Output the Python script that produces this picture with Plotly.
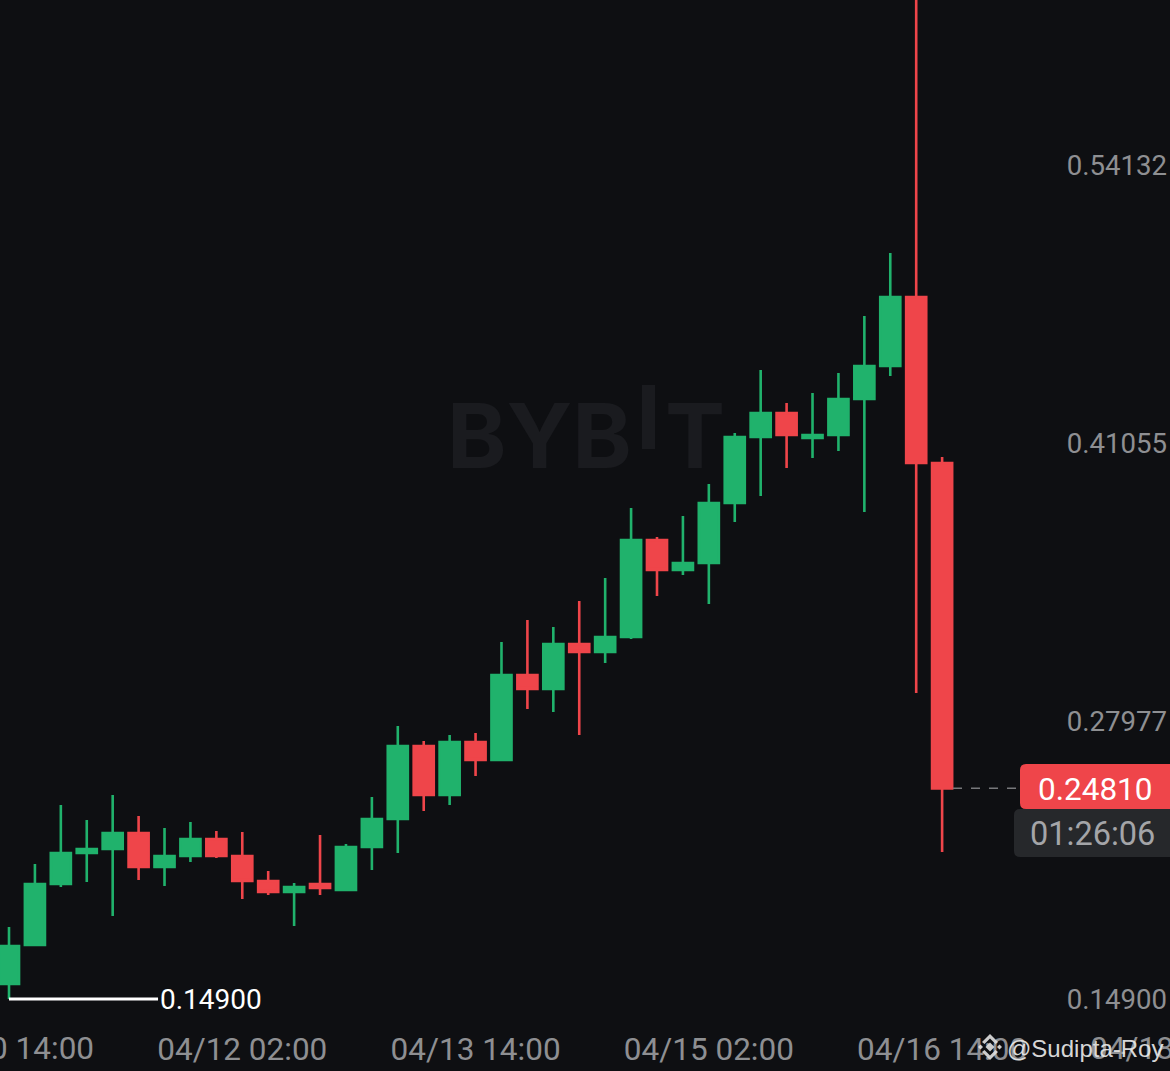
import pandas as pd
import plotly.graph_objects as go

# 4h candles
times = pd.date_range("2025-04-10 14:00", periods=37, freq="4h")
opens = [0.15606, 0.17440, 0.20310, 0.21768, 0.21956, 0.22709, 0.21109, 0.21627, 0.22426, 0.21627,
         0.20451, 0.19933, 0.20310, 0.20027, 0.22050, 0.23367, 0.26801, 0.24496, 0.26989, 0.26143,
         0.30141, 0.29482, 0.31599, 0.31223, 0.31928, 0.36491, 0.35080, 0.35409, 0.38232, 0.41336,
         0.42465, 0.41289, 0.41431, 0.43124, 0.44676, 0.47922, 0.40113]
highs = [0.18287, 0.21250, 0.24026, 0.23320, 0.24496, 0.23508, 0.22944, 0.23226, 0.22803, 0.22756,
         0.20921, 0.20357, 0.22615, 0.22191, 0.24402, 0.27742, 0.27036, 0.27319, 0.27413, 0.31693,
         0.32728, 0.32399, 0.33622, 0.34704, 0.37997, 0.36632, 0.37620, 0.39126, 0.41525, 0.44488,
         0.42936, 0.43406, 0.44347, 0.47028, 0.49992, 0.63000, 0.40396]
lows = [0.14900, 0.17440, 0.20168, 0.20404, 0.18804, 0.20498, 0.20216, 0.21344, 0.21533, 0.19604,
        0.19792, 0.18334, 0.19792, 0.20027, 0.20968, 0.21768, 0.23744, 0.24026, 0.25390, 0.26096,
        0.28542, 0.28400, 0.27319, 0.30705, 0.31834, 0.33857, 0.34845, 0.33481, 0.37338, 0.38561,
        0.39878, 0.40349, 0.40678, 0.37808, 0.44206, 0.29294, 0.21815]
closes = [0.17393, 0.20310, 0.21768, 0.21956, 0.22709, 0.21109, 0.21627, 0.22426, 0.21627, 0.20451,
          0.19933, 0.20168, 0.20121, 0.22050, 0.23367, 0.26801, 0.24496, 0.26989, 0.26143, 0.30141,
          0.29482, 0.31599, 0.31223, 0.31928, 0.36491, 0.35080, 0.35409, 0.38232, 0.41336, 0.42465,
          0.41431, 0.41431, 0.43124, 0.44676, 0.47922, 0.40113, 0.24810]
price_ticks = [0.14900, 0.27977, 0.41055, 0.54132]
countdown = "01:26:06"

W, H = 1170, 1071
PLOT_H = 1025  # axis labels sit under this
BG = "#0e0f12"
GREEN = "#20b26c"
RED = "#ef454a"
GREY = "#8e8f92"
FONT = "Roboto"
X_SIZE = 31.5


def px(x):
    return x / W


def py(y):
    return 1 - y / PLOT_H


def label(text, x, y, size, color, anchor="left", font=FONT, bold=False):
    if bold:
        text = "<b>" + text + "</b>"
    return dict(text=text, x=px(x), y=py(y), xref="paper", yref="paper", showarrow=False,
                xanchor=anchor, yanchor="middle", font=dict(family=font, size=size, color=color))


def poly(points, color):
    path = "M " + " L ".join(f"{px(x)},{py(y)}" for x, y in points) + " Z"
    return dict(type="path", path=path, xref="paper", yref="paper", fillcolor=color, line=dict(width=0))


def left_round_rect(x0, y0, x1, y1, r, color):
    # only the left corners are rounded, the right side runs off the page
    path = (f"M {px(x1)},{py(y0)} L {px(x0 + r)},{py(y0)} "
            f"Q {px(x0)},{py(y0)} {px(x0)},{py(y0 + r)} "
            f"L {px(x0)},{py(y1 - r)} Q {px(x0)},{py(y1)} {px(x0 + r)},{py(y1)} "
            f"L {px(x1)},{py(y1)} Z")
    return dict(type="path", path=path, xref="paper", yref="paper", fillcolor=color, line=dict(width=0))


def diamond(cx, cy, r, color):
    return poly([(cx, cy - r), (cx + r, cy), (cx, cy + r), (cx - r, cy)], color)


fig = go.Figure(go.Candlestick(
    x=times, open=opens, high=highs, low=lows, close=closes,
    whiskerwidth=0,
    increasing=dict(line=dict(color=GREEN, width=2.6), fillcolor=GREEN),
    decreasing=dict(line=dict(color=RED, width=2.6), fillcolor=RED),
    hoverinfo="none",
))

# Bybit watermark, the I sits higher than the other letters
WM = "#1a1b1f"
annotations = [
    label("BYB", 445, 436, 90, WM, font="Inter", bold=True),
    label("T", 663, 436, 90, WM, font="Inter", bold=True),
    # these two tick labels run off the page, plotly would drop them on the axis
    label("04/10 14:00", 9, 1048, X_SIZE, GREY, anchor="center"),
    label("04/18 02:00", 1175, 1048, X_SIZE, GREY, anchor="center"),
    label("0.14900", 158, 999, 28, "#ffffff"),
    label("0.24810", 1095, 789, 31.5, "#ffffff", anchor="center"),
    label(countdown, 1092, 834, 32.5, "#a4a5a8", anchor="center"),
    label("@Sudipta-Roy", 1005, 1048, 24, "rgba(235,235,235,0.92)", font="Liberation Sans"),
]

LOGO = "rgba(225,225,225,0.9)"
shapes = [
    poly([(642, 385), (655, 385), (655, 449), (642, 449)], WM),
    # last price line and its tags
    dict(type="line", xref="paper", yref="y", x0=px(953), x1=px(1020), y0=closes[-1], y1=closes[-1],
         line=dict(color="#77787b", width=1.5, dash="dash")),
    left_round_rect(1020, 764, 1172, 809, 6, RED),
    left_round_rect(1014, 809, 1172, 857, 6, "#26282b"),
    # lowest price marker
    dict(type="line", xref="x", yref="y", x0=times[0], x1=times[0] + pd.Timedelta(hours=23),
         y0=min(lows), y1=min(lows), line=dict(color="#ffffff", width=3)),
    # Binance logo
    diamond(990, 1047, 4.5, LOGO),
    diamond(980.5, 1047, 2.5, LOGO),
    diamond(999.5, 1047, 2.5, LOGO),
    poly([(990, 1034), (998, 1042), (995.5, 1044), (990, 1038.5), (984.5, 1044), (982, 1042)], LOGO),
    poly([(990, 1060), (998, 1052), (995.5, 1050), (990, 1055.5), (984.5, 1050), (982, 1052)], LOGO),
]

# the axes are fitted so candle 0 lands 9px in and candles are 25.92px apart
slot = 4 / 25.92
x_range = [times[0] - pd.Timedelta(hours=9 * slot), times[0] + pd.Timedelta(hours=(W - 9) * slot)]
y_per_px = (price_ticks[3] - price_ticks[0]) / (3 * 278)
y_range = [price_ticks[0] - (PLOT_H - 999) * y_per_px, price_ticks[0] + 999 * y_per_px]

fig.update_layout(
    width=W, height=H,
    margin=dict(l=0, r=0, t=0, b=H - PLOT_H),
    paper_bgcolor=BG, plot_bgcolor=BG,
    showlegend=False,
    boxgap=0.225,
    boxgroupgap=0,
    hovermode=False,
    xaxis=dict(type="date", range=x_range, rangeslider=dict(visible=False),
               tickvals=list(times[9::9]), tickformat="%m/%d %H:%M",
               tickfont=dict(family=FONT, size=X_SIZE, color=GREY), ticklabelstandoff=2,
               ticks="", ticklen=0, showgrid=False, zeroline=False, showline=False),
    yaxis=dict(range=y_range, side="right", ticklabelposition="inside",
               tickvals=price_ticks, ticktext=[f"{p:.5f}" for p in price_ticks],
               tickfont=dict(family=FONT, size=27.6, color=GREY),
               ticks="", showgrid=False, zeroline=False, showline=False),
    annotations=annotations,
    shapes=shapes,
)

fig.write_html("out.html", config={"displayModeBar": False},
               post_script="document.body.style.margin='0';document.body.style.overflow='hidden';")
